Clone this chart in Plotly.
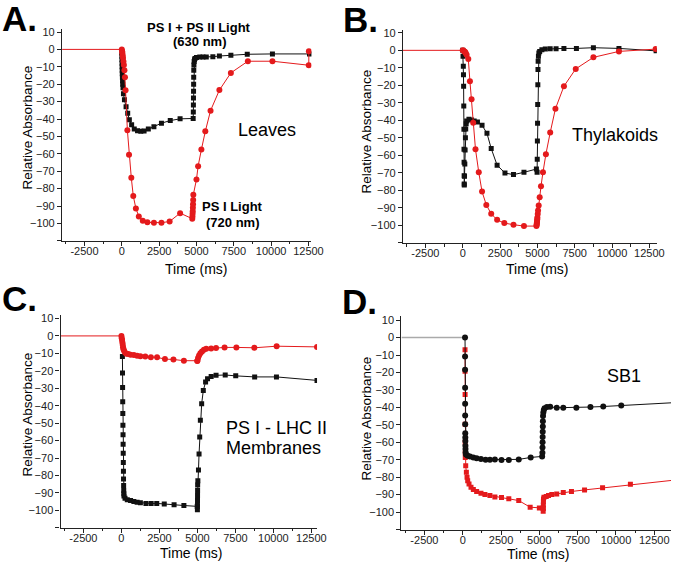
import plotly.graph_objects as go

W, H = 683, 562
RED = "#e41a1c"
BLK = "#111111"
FONT = "Liberation Sans, Arial, sans-serif"

# ---------------- data ----------------
baseline_t = [-4000, 0]
baseline_v = [0, 0]
baseline_d_t = [-4000, 150]
baseline_d_v = [0, 0]

# Panel A (Leaves)
a_black_t = [0, 5, 10, 15, 20, 25, 30, 40, 50, 60, 80, 110, 176, 285, 395, 505, 658, 834, 1053, 1272,
             1491, 1777, 2150, 2655, 3245, 3903, 4780, 4790, 4795, 4800, 4805, 4810, 4815, 4820, 4830,
             4845, 4870, 4900, 5000, 5220, 5440, 5658, 6098, 6536, 7305, 8402, 10088, 12570]
a_black_v = [-2, -4, -6, -8, -10, -12, -14, -16, -18, -20, -22, -25.5, -29, -32.9, -36.7, -40.5, -43.3,
             -45.8, -46.8, -47.1, -46.9, -45.8, -44.5, -42.4, -40.9, -39.9, -39.7, -36, -32, -28, -24,
             -20, -16, -12, -9, -7, -6, -5.3, -4.6, -4.4, -4.4, -4.3, -4.2, -3.8, -3.4, -2.8, -2.6, -2.6]
a_red_t = [0, 20, 40, 60, 80, 110, 140, 176, 210, 250, 373, 483, 636, 768, 943, 1140, 1404, 1711, 2150,
           2655, 3201, 3904, 4720, 4730, 4740, 4750, 4760, 4770, 4780, 4790, 5000, 5110, 5329, 5592,
           5943, 6535, 7303, 8443, 10088, 12522, 12530]
a_red_v = [0, -1, -2, -3.5, -5, -7, -9, -12, -16, -23.5, -46.5, -60.5, -73.8, -84.2, -91.4, -96, -98.5,
           -99.4, -99.6, -99.6, -98.9, -94.1, -97.3, -96, -94.5, -93, -91, -89, -86.5, -83.5, -74.7,
           -67.1, -57.6, -47.1, -35.2, -23.4, -13.5, -6.8, -6.8, -9.1, -1.1]

# Panel B (Thylakoids)
b_black_t = [0, 20, 40, 50, 60, 70, 80, 85, 90, 95, 100, 105, 120, 140, 160, 180, 200, 230, 263, 416,
             592, 767, 986, 1294, 1623, 1908, 2303, 2829, 3399, 4101, 4935, 4980, 4990, 5000, 5010, 5020,
             5030, 5040, 5050, 5070, 5100, 5153, 5300, 5527, 5856, 6251, 6777, 7613, 8751, 10462, 12950]
b_black_v = [0, -3.4, -9.1, -14, -20.5, -31.8, -45.1, -56.5, -64, -71.6, -76.3, -77, -72, -65, -57, -50,
             -45, -42, -40.3, -39.4, -39.8, -40.3, -40.9, -42.8, -47.4, -56.1, -65.6, -70.1, -71, -69.7,
             -67.8, -69.7, -62.2, -51.8, -41.7, -30.9, -19.6, -11, -6.3, -3.4, -1.5, -0.6, 0.3, 0.7, 0.9,
             0.9, 1.1, 1.1, 1.5, 1.1, -0.3]
b_red_t = [0, 60, 110, 160, 197, 260, 373, 482, 592, 702, 855, 1075, 1294, 1579, 1908, 2303, 2785, 3399,
           4101, 4935, 4950, 4960, 4970, 4979, 4990, 5000, 5022, 5044, 5088, 5153, 5241, 5373, 5570,
           5856, 6207, 6777, 7567, 8751, 10462, 12918]
b_red_v = [0, -0.3, -0.6, -1, -1.5, -2.5, -4.9, -17.6, -28, -41.3, -56.5, -69.7, -80.7, -88.3, -93.4,
           -96.8, -98.7, -99.6, -100.4, -100.4, -99.8, -99, -98.4, -97.5, -96.5, -95.5, -93.5, -91.5,
           -88.6, -83.9, -77.6, -69.7, -59.3, -47, -33.4, -20.5, -10.6, -4, -0.6, 0.7]

# Panel C (PS I - LHC II membranes)
c_black_t = [65, 72, 78, 85, 92, 99, 106, 112, 119, 126, 133, 139, 146, 153, 160, 167, 237, 387, 602,
             818, 1033, 1248, 1615, 1958, 2324, 2819, 3465, 4111, 4990,
             5000, 5003, 5006, 5009, 5012, 5016, 5030,
             5070, 5108, 5151, 5194, 5280, 5388, 5538, 5667, 5904, 6227, 6830, 7520, 8766, 10200, 12870]
c_black_v = [-11.8, -21.3, -29.5, -37.8, -44.5, -51.2, -56.7, -62.1, -67.3, -72.5, -77.6, -82, -85.8,
             -88.6, -90.5, -91.8, -93, -93.9, -94.3, -94.9, -95.3, -95.6, -96, -96, -96, -96.4, -96.8,
             -97.2, -97.7,
             -99.6, -97, -94.3, -91.5, -88.6, -85.5, -83,
             -76.9, -67.7, -57.9, -48.4, -38.9, -31.3, -26.4, -24.5, -23.3, -22.6, -22.4, -22.9, -23.5,
             -23.5, -25.5]
c_red_t = [0, 21, 44, 65, 87, 108, 136, 174, 237, 323, 452, 602, 818, 1033, 1248, 1571, 1937, 2346, 2863,
           3423, 4111, 4990, 5000, 5043, 5108, 5194, 5302, 5431, 5581, 5904, 6227, 6787, 7563, 8745,
           10213, 12870]
c_red_v = [0, -1.3, -2.3, -3.8, -5.1, -6.5, -7.6, -8.5, -9.5, -10.2, -10.4, -10.8, -11, -11.4, -11.6,
           -11.8, -12.2, -12.3, -13.3, -13.5, -14.2, -14.4, -14.2, -12.7, -11.2, -9.9, -8.9, -8, -7.4,
           -7.2, -7, -6.6, -6.6, -6.8, -5.9, -6.3]

# Panel D (SB1)
d_black_t = [150, 152, 154, 156, 158, 160, 162, 165, 168, 172, 176, 180, 190, 210, 324, 476, 692, 908,
             1190, 1493, 1774, 2099, 2531, 3007, 3656, 4435, 5180, 5200, 5205, 5210, 5215, 5220, 5225,
             5230, 5240, 5260, 5290, 5340, 5492, 5706, 6133, 6561, 7415, 8334, 9168, 10343, 14000]
d_black_v = [0, -10.8, -18.4, -28.8, -37.9, -44.6, -49.7, -54.8, -57.3, -59.2, -62, -63.9, -65.8, -67,
             -67.7, -68.1, -68.7, -69.2, -69.6, -70, -70, -69.8, -70.2, -70.2, -69.8, -68.7, -68.1, -66,
             -63, -60, -57, -54, -51, -48, -45, -43, -41.5, -40.5, -39.8, -39.7, -40.2, -40.2, -40.2,
             -39.8, -39.5, -38.9, -37.2]
d_red_t = [150, 152, 155, 158, 160, 163, 166, 195, 238, 281, 324, 411, 540, 692, 908, 1190, 1449, 1774,
           2099, 2531, 3007, 3656, 4400, 5000, 5240, 5250, 5255, 5260, 5265, 5270, 5300, 5449, 5599,
           5813, 6133, 6561, 7095, 7950, 9125, 10941, 14000]
d_red_v = [-7, -19.3, -32.6, -49.7, -60, -66, -68.7, -73.4, -77.2, -80, -82, -83.9, -85.8, -87.1, -88.2,
           -89.2, -89.9, -90.5, -91.3, -91.7, -92.4, -93.4, -97.2, -97.7, -97.7, -99.5, -98, -96, -94,
           -92.5, -91.5, -91.1, -90.5, -89.9, -89.6, -88.8, -88.2, -87.3, -86.1, -84.1, -81.5]

y_ticks = list(range(-100, 11, 10))
x_ticks = [-2500, 0, 2500, 5000, 7500, 10000, 12500]
x_tick_text = ["-2500", "0", "2500", "5000", "7500", "10000", "12500"]

# ---------------- layout geometry (pixels) ----------------
panels = {
    "A": dict(xr=[-4000, 12700], px=[63.2, 317.0], yr=[-110, 12], py=[24.7, 238.5]),
    "B": dict(xr=[-4000, 13000], px=[410.2, 668.6], yr=[-110, 11.5], py=[26.4, 240.6]),
    "C": dict(xr=[-4000, 12870], px=[61.7, 322.7], yr=[-110, 12], py=[313.2, 527.6]),
    "D": dict(xr=[-4000, 13590], px=[408.6, 683.0], yr=[-110, 12.5], py=[314.0, 529.3]),
}

fig = go.Figure()
layout = dict(width=W, height=H, margin=dict(l=0, r=0, t=0, b=0), showlegend=False,
              paper_bgcolor="white", plot_bgcolor="white", font=dict(family=FONT, color="#111"))

for i, (key, p) in enumerate(panels.items()):
    n = "" if i == 0 else str(i + 1)
    layout["xaxis" + n] = dict(
        domain=[p["px"][0] / W, min(p["px"][1] / W, 1.0)], range=p["xr"], anchor="y" + n,
        showline=True, linecolor="#222", linewidth=1.3, ticks="outside", ticklen=4, tickwidth=1,
        tickcolor="#222", tickmode="array", tickvals=x_ticks, ticktext=x_tick_text,
        ticklabelstandoff=-4, showgrid=False, zeroline=False,
        tickfont=dict(size=11, family=FONT, color="#222"),
        minor=dict(tickmode="linear", tick0=-1250, dtick=2500, ticks="outside", ticklen=2.5,
                   tickcolor="#222", showgrid=False))
    layout["yaxis" + n] = dict(
        domain=[1 - p["py"][1] / H, 1 - p["py"][0] / H], range=p["yr"], anchor="x" + n,
        showline=True, linecolor="#222", linewidth=1.3, ticks="outside", ticklen=4, tickwidth=1,
        tickcolor="#222", tickmode="array", tickvals=y_ticks, showgrid=False, zeroline=False,
        tickfont=dict(size=11, family=FONT, color="#222"),
        minor=dict(tickmode="array", tickvals=[-110], ticks="outside", ticklen=4,
                   tickcolor="#222", showgrid=False))


def line(x, y, ax, color, width=1):
    fig.add_trace(go.Scatter(x=x, y=y, mode="lines", line=dict(color=color, width=width),
                             xaxis="x" + ax, yaxis="y" + ax, hoverinfo="skip"))


def series(x, y, ax, color, symbol, size):
    fig.add_trace(go.Scatter(x=x, y=y, mode="lines+markers", line=dict(color=color, width=1),
                             marker=dict(color=color, symbol=symbol, size=size, line=dict(width=0)),
                             xaxis="x" + ax, yaxis="y" + ax))


# A
line(baseline_t, baseline_v, "", RED)
series(a_black_t, a_black_v, "", BLK, "square", 5)
series(a_red_t, a_red_v, "", RED, "circle", 6)
# B
line(baseline_t, baseline_v, "2", RED)
series(b_black_t, b_black_v, "2", BLK, "square", 5)
series(b_red_t, b_red_v, "2", RED, "circle", 6)
# C
line(baseline_t, baseline_v, "3", RED)
series(c_black_t, c_black_v, "3", BLK, "square", 5)
series(c_red_t, c_red_v, "3", RED, "circle", 6)
# D
line(baseline_d_t, baseline_d_v, "4", "#aaaaaa", 1.5)
series(d_red_t, d_red_v, "4", RED, "square", 5)
series(d_black_t, d_black_v, "4", BLK, "circle", 6)

fig.update_layout(**layout)

ann = []


def txt(x, y, s, size, bold=False, xanchor="center", angle=0):
    ann.append(dict(x=x / W, y=1 - y / H, xref="paper", yref="paper", text=("<b>%s</b>" % s) if bold else s,
                    showarrow=False, xanchor=xanchor, yanchor="middle", textangle=angle,
                    font=dict(size=size, family=FONT, color="#000")))


# panel letters
txt(0, 15, "A.", 35, True, "left")
txt(347, 16, "B.", 35, True, "left")
txt(0, 297, "C.", 35, True, "left")
txt(346, 300, "D.", 35, True, "left")

# axis titles
for (yx, yy, tx, ty) in [(28, 125, 200, 267), (373, 128, 547, 267), (28, 414, 194, 553), (373, 417, 548, 554)]:
    txt(yx, yy, "Relative Absorbance", 13.5, False, "center", -90)
    txt(tx, ty, "Time (ms)", 14, False, "center")

# in-plot labels
txt(203, 24, "PS I + PS II Light", 13, True)
txt(203, 38, "(630 nm)", 13, True)
txt(272, 127, "Leaves", 18)
txt(237, 204, "PS I Light", 13, True)
txt(237, 220, "(720 nm)", 13, True)
txt(626, 132, "Thylakoids", 18)
txt(228, 427, "PS I - LHC II", 18, False, "left")
txt(228, 447, "Membranes", 18, False, "left")
txt(635, 375, "SB1", 18)

fig.update_layout(annotations=ann)
fig.write_html("out.html", config={"displayModeBar": False},
               post_script="document.body.style.margin='0';document.body.style.overflow='hidden';")
